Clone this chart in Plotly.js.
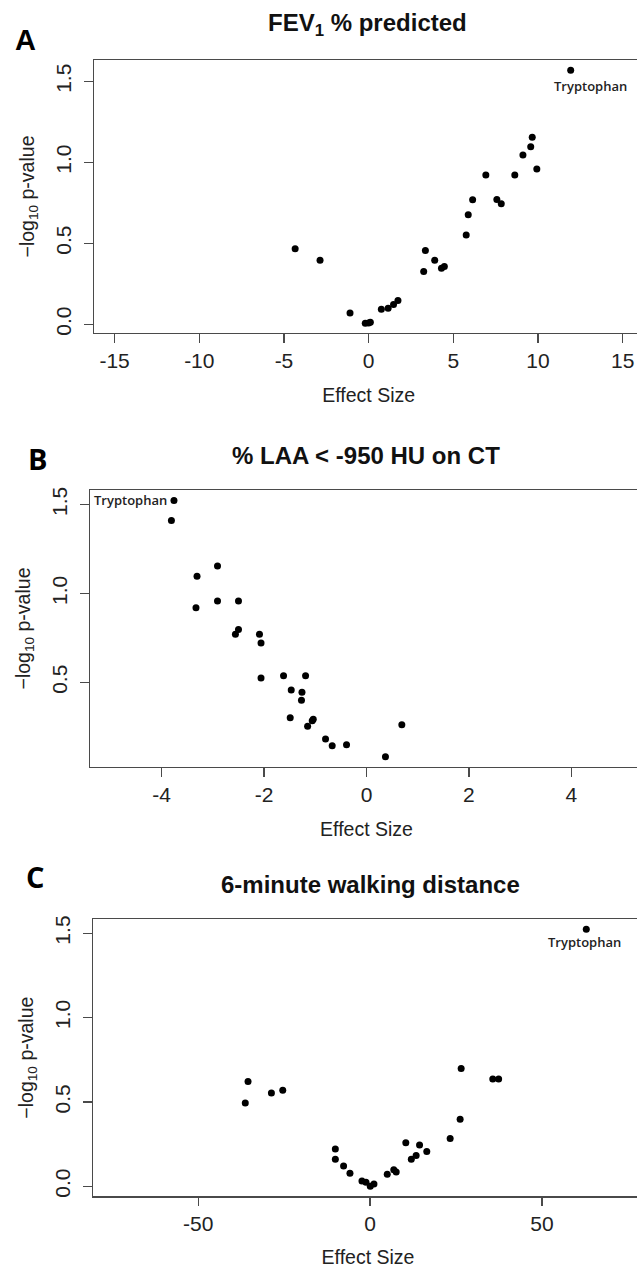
<!DOCTYPE html>
<html><head><meta charset="utf-8">
<script src="https://cdn.plot.ly/plotly-3.0.1.min.js"></script>
<style>html,body{margin:0;padding:0;overflow:hidden;background:#fff}</style>
</head><body><div id="chart"></div>
<script>
// Panel A: FEV1 % predicted (first point = Tryptophan)
const fevX = [11.93, -4.34, -2.87, -1.1, -0.2, 0.0, 0.1, 0.75, 1.15, 1.47, 1.73, 3.35, 3.25, 3.9, 4.3, 4.47, 5.76, 5.88, 6.14, 6.92, 7.57, 7.83, 8.63, 9.11, 9.57, 9.66, 9.93];
const fevY = [1.569, 0.466, 0.396, 0.070, 0.006, 0.008, 0.012, 0.093, 0.099, 0.122, 0.146, 0.456, 0.326, 0.395, 0.346, 0.357, 0.551, 0.676, 0.769, 0.922, 0.771, 0.744, 0.922, 1.045, 1.097, 1.155, 0.959];
// Panel B: % LAA < -950 HU on CT (first point = Tryptophan)
const laaX = [-3.76, -3.81, -3.31, -3.33, -2.91, -2.91, -2.50, -2.50, -2.56, -2.09, -2.06, -2.06, -1.62, -1.19, -1.47, -1.26, -1.27, -1.49, -1.04, -1.06, -1.15, -0.80, -0.67, -0.39, 0.37, 0.69];
const laaY = [1.523, 1.410, 1.097, 0.920, 1.155, 0.958, 0.958, 0.797, 0.770, 0.770, 0.721, 0.524, 0.537, 0.537, 0.457, 0.444, 0.399, 0.301, 0.292, 0.284, 0.253, 0.181, 0.144, 0.149, 0.082, 0.262];
// Panel C: 6-minute walking distance (first point = Tryptophan)
const walkX = [62.9, -36.3, -35.5, -28.7, -25.4, -10.1, -10.1, -7.7, -5.85, -2.36, -1.19, 0.06, 1.13, 5.0, 6.9, 7.6, 10.4, 12.0, 13.4, 14.4, 16.5, 23.3, 26.2, 26.5, 35.7, 37.4];
const walkY = [1.524, 0.494, 0.621, 0.553, 0.569, 0.221, 0.160, 0.120, 0.077, 0.031, 0.024, 0.0, 0.014, 0.071, 0.099, 0.085, 0.259, 0.160, 0.182, 0.245, 0.207, 0.284, 0.397, 0.698, 0.636, 0.636];

const panelTitles = ['FEV<sub>1</sub> % predicted', '% LAA < -950 HU on CT', '6-minute walking distance'];
const panelLetters = ['A', 'B', 'C'];
const highlightName = 'Tryptophan';
const xTicksA = [-15, -10, -5, 0, 5, 10, 15];
const xLabelsA = ['-15', '-10', '-5', '0', '5', '10', '15'];
const xTicksB = [-4, -2, 0, 2, 4];
const xLabelsB = ['-4', '-2', '0', '2', '4'];
const xTicksC = [-50, 0, 50];
const xLabelsC = ['-50', '0', '50'];
const yTicksA = [0, 0.5, 1.0, 1.5];
const yLabelsA = ['0.0', '0.5', '1.0', '1.5'];
const yTicksB = [0.5, 1.0, 1.5];
const yLabelsB = ['0.5', '1.0', '1.5'];
const yTicksC = [0, 0.5, 1.0, 1.5];
const yLabelsC = ['0.0', '0.5', '1.0', '1.5'];
const xTitle = 'Effect Size';
const yTitle = '\u2212log<sub>10</sub> p-value';

const W = 650, H = 1268;
const px = v => v / W;
const py = v => 1 - v / H;
const sans = 'Liberation Sans, Arial, sans-serif';

function scatter(x, y, n) {
  return {x: x, y: y, type: 'scatter', mode: 'markers', xaxis: 'x' + n, yaxis: 'y' + n,
    marker: {color: '#000', size: 7}, hoverinfo: 'x+y', showlegend: false};
}
const data = [scatter(fevX, fevY, ''), scatter(laaX, laaY, '2'), scatter(walkX, walkY, '3')];

const axBase = {showline: true, mirror: true, linecolor: '#4a4a4a', linewidth: 1.4,
  ticks: 'outside', ticklen: 8.5, tickcolor: '#4a4a4a', tickwidth: 1.3,
  showgrid: false, zeroline: false, automargin: false, fixedrange: true,
  tickfont: {family: sans, size: 21, color: '#222'}};
function xa(dom, rng, tv, tt, anchor) {
  return Object.assign({}, axBase, {domain: dom, range: rng, tickvals: tv, ticktext: tt, anchor: anchor,
    title: {text: xTitle, font: {family: sans, size: 19.5, color: '#222'}, standoff: 17}});
}
function ya(dom, rng, tv, tt, anchor) {
  return Object.assign({}, axBase, {domain: dom, range: rng, tickvals: tv, ticktext: tt, anchor: anchor,
    tickangle: -90, ticklabelstandoff: 5,
    title: {text: yTitle, font: {family: sans, size: 19.5, color: '#222'}, standoff: 12}});
}

const titleFont = {family: sans, size: 24, color: '#111'};
const lblFont = {family: 'Open Sans, sans-serif', size: 13, color: '#222', weight: 600};
const annotations = [
  {text: '<b>' + panelTitles[0] + '</b>', x: px(367), y: py(25), xref: 'paper', yref: 'paper', showarrow: false, font: titleFont, xanchor: 'center', yanchor: 'middle'},
  {text: '<b>' + panelTitles[1] + '</b>', x: px(366), y: py(455), xref: 'paper', yref: 'paper', showarrow: false, font: titleFont, xanchor: 'center', yanchor: 'middle'},
  {text: '<b>' + panelTitles[2] + '</b>', x: px(370), y: py(884), xref: 'paper', yref: 'paper', showarrow: false, font: titleFont, xanchor: 'center', yanchor: 'middle'},
  {text: '<b>' + panelLetters[0] + '</b>', x: px(25), y: py(40), xref: 'paper', yref: 'paper', showarrow: false, xanchor: 'center', yanchor: 'middle', font: {family: sans, size: 29, color: '#000'}},
  {text: '<b>' + panelLetters[1] + '</b>', x: px(37), y: py(459), xref: 'paper', yref: 'paper', showarrow: false, xanchor: 'center', yanchor: 'middle', font: {family: 'Open Sans, sans-serif', size: 29, color: '#000'}},
  {text: '<b>' + panelLetters[2] + '</b>', x: px(35), y: py(876), xref: 'paper', yref: 'paper', showarrow: false, xanchor: 'center', yanchor: 'middle', font: {family: 'Open Sans, sans-serif', size: 29, color: '#000'}},
  {text: highlightName, x: fevX[0], y: fevY[0], xref: 'x', yref: 'y', showarrow: false, xanchor: 'center', yanchor: 'middle', xshift: 20, yshift: -16, font: lblFont},
  {text: highlightName, x: laaX[0], y: laaY[0], xref: 'x2', yref: 'y2', showarrow: false, xanchor: 'right', yanchor: 'middle', xshift: -5, yshift: 0, font: lblFont},
  {text: highlightName, x: walkX[0], y: walkY[0], xref: 'x3', yref: 'y3', showarrow: false, xanchor: 'center', yanchor: 'middle', xshift: -2, yshift: -13, font: lblFont}
];

const layout = {
  width: W, height: H, margin: {l: 0, r: 0, t: 0, b: 0},
  paper_bgcolor: '#fff', plot_bgcolor: '#fff', showlegend: false,
  xaxis: xa([px(94.3), px(643)], [-16.2, 16.2], xTicksA, xLabelsA, 'y'),
  yaxis: ya([py(333), py(60)], [-0.054, 1.632], yTicksA, yLabelsA, 'x'),
  xaxis2: xa([px(90), px(643)], [-5.4, 5.4], xTicksB, xLabelsB, 'y2'),
  yaxis2: ya([py(767), py(490)], [0.024, 1.582], yTicksB, yLabelsB, 'x2'),
  xaxis3: xa([px(93), px(643)], [-80.6, 79.4], xTicksC, xLabelsC, 'y3'),
  yaxis3: ya([py(1196.3), py(919)], [-0.059, 1.584], yTicksC, yLabelsC, 'x3'),
  annotations: annotations
};
Plotly.newPlot('chart', data, layout, {staticPlot: true, displayModeBar: false});
</script></body></html>
